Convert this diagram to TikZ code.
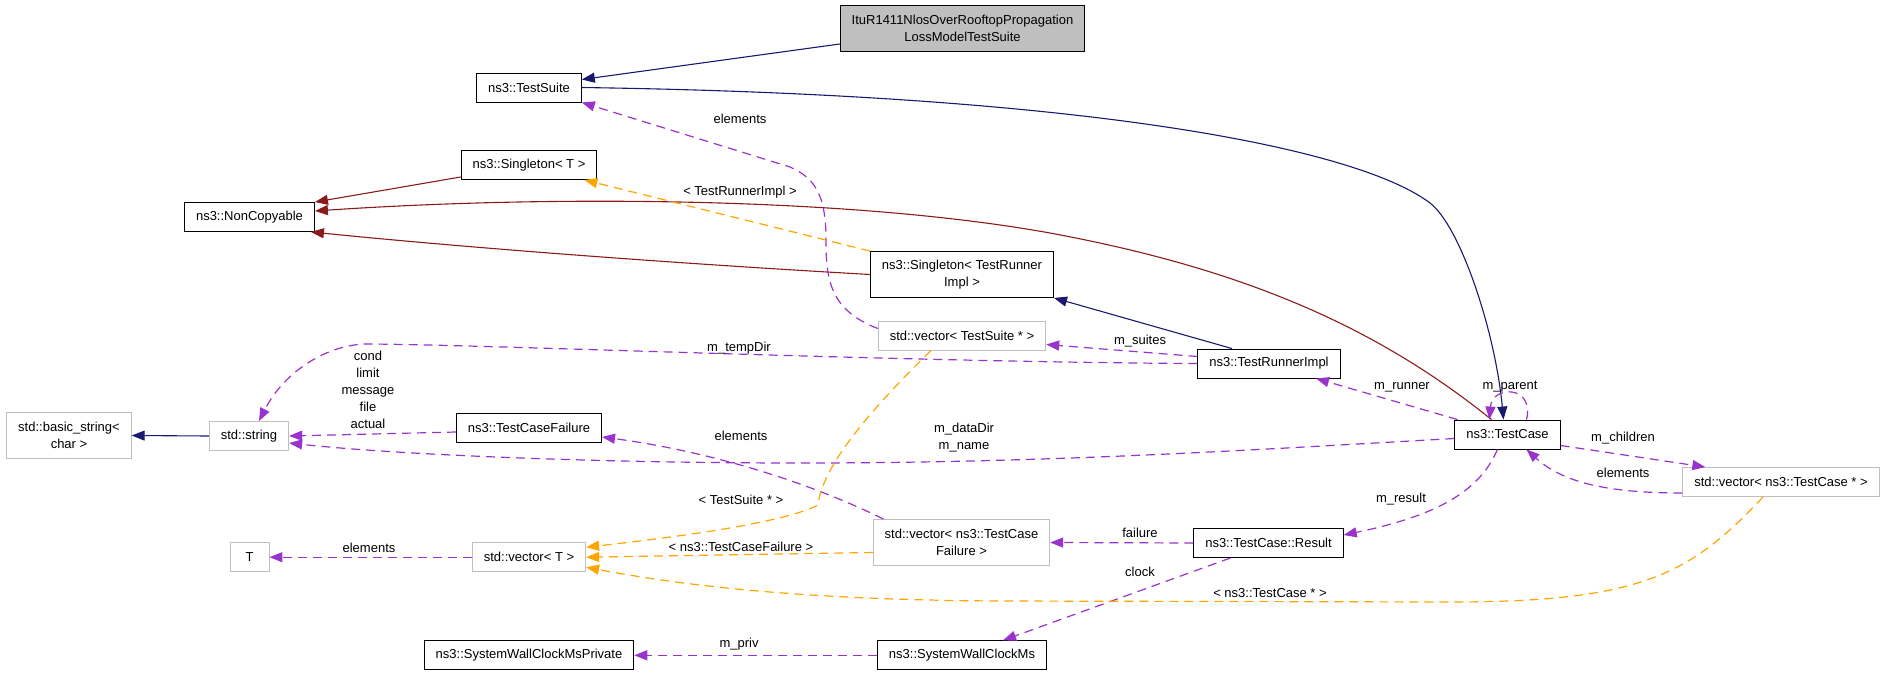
\documentclass[tikz,border=0pt]{standalone}
\usepackage{fontspec}
\setmainfont{Liberation Sans}
\usetikzlibrary{arrows.meta}
\definecolor{inhblue}{RGB}{25,25,112}
\definecolor{ncred}{RGB}{139,26,26}
\definecolor{usepurple}{RGB}{154,50,205}
\definecolor{tplorange}{RGB}{255,165,0}
\definecolor{boxgray}{RGB}{191,191,191}

\begin{document}
\begin{tikzpicture}[x=1pt, y=-1pt, >={Triangle[length=13pt,width=10pt]}, font=\fontsize{13}{17}\selectfont,
  cls/.style={draw=black, line width=0.9pt, fill=white, inner xsep=11.5pt, inner ysep=2pt, minimum height=29pt, align=center},
  ucls/.style={cls, draw=boxgray},
  twoline/.style={minimum height=46pt},
  lbl/.style={inner sep=1pt, align=center},
  inherit/.style={->, draw=inhblue, line width=1.1pt},
  inheritnc/.style={->, draw=ncred, line width=1.1pt},
  usage/.style={->, draw=usepurple, line width=1.2pt, dash pattern=on 9pt off 6pt},
  tmpl/.style={->, draw=tplorange, line width=1.2pt, dash pattern=on 9pt off 6pt}]
\useasboundingbox (0,0) rectangle (1888,675);

\node(itur)[cls,twoline,fill=boxgray] at (962.5,28) {ItuR1411NlosOverRooftopPropagation\\LossModelTestSuite};
\node(testsuite)[cls] at (529,87.5) {ns3::TestSuite};
\node(singletont)[cls] at (529,165) {ns3::Singleton< T >};
\node(noncopy)[cls] at (249.5,217) {ns3::NonCopyable};
\node(singletontri)[cls,twoline] at (962,274.5) {ns3::Singleton< TestRunner\\Impl >};
\node(vecsuite)[ucls] at (962,335.5) {std::vector< TestSuite * >};
\node(runner)[cls] at (1269,363.5) {ns3::TestRunnerImpl};
\node(basicstr)[ucls,twoline] at (69,435.5) {std::basic\_string<\\char >};
\node(stdstr)[ucls] at (249,436) {std::string};
\node(tcfailure)[cls] at (529,428) {ns3::TestCaseFailure};
\node(testcase)[cls] at (1507.5,434.5) {ns3::TestCase};
\node(veccase)[ucls] at (1781,482) {std::vector< ns3::TestCase * >};
\node(tparam)[ucls,minimum width=39pt] at (249.5,557.2) {T};
\node(vect)[ucls] at (529,557.2) {std::vector< T >};
\node(vecfailure)[ucls,twoline] at (961.5,542.5) {std::vector< ns3::TestCase\\Failure >};
\node(result)[cls] at (1268.5,543) {ns3::TestCase::Result};
\node(clockpriv)[cls] at (529,655.3) {ns3::SystemWallClockMsPrivate};
\node(clockms)[cls] at (962,655.3) {ns3::SystemWallClockMs};

\draw[inherit] ([yshift=-16pt]itur.west) -- ([yshift=8pt]testsuite.east);
\draw[inherit] (testsuite.east) .. controls (1100,95) and (1360,150) .. (1430,203) .. controls (1460,226) and (1495,330) .. ([xshift=-4pt]testcase.north);
\draw[inherit] ([xshift=-37pt]runner.north) -- (singletontri.south east);
\draw[inherit] (stdstr.west) -- (basicstr.east);
\draw[inheritnc] ([yshift=-12pt]singletont.west) -- (noncopy.north east);
\draw[inheritnc] ([xshift=-16pt]testcase.north) .. controls (1380,330) and (1250,270) .. (1050,233) .. controls (850,197) and (550,195) .. ([yshift=6pt]noncopy.east);
\draw[inheritnc] (singletontri.west) .. controls (650,262) and (450,246) .. ([xshift=-4pt]noncopy.south east);

\draw[usage] ([yshift=7pt]vecsuite.west) .. controls (830,310) and (826,280) .. (826,240) .. controls (826,195) and (815,178) .. (790,167) -- (testsuite.south east);
\draw[usage] ([yshift=7pt]runner.west) -- ([yshift=-9pt]vecsuite.east);
\draw[usage] (runner.west) .. controls (900,362) and (500,345) .. (370,344) .. controls (330,343) and (285,370) .. ([xshift=10pt]stdstr.north);
\draw[usage] ([yshift=-4pt]tcfailure.west) -- (stdstr.east);
\draw[usage] ([yshift=-4pt]testcase.west) .. controls (1250,450) and (1050,463) .. (800,463) .. controls (600,463) and (400,455) .. ([yshift=-7pt]stdstr.east);
\draw[usage] ([xshift=-50pt]testcase.north) -- ([xshift=47pt]runner.south);
\draw[usage] ([xshift=19pt]testcase.north) .. controls (1535,385) and (1492,385) .. ([xshift=-18pt]testcase.north);
\draw[usage] ([yshift=-11pt]testcase.east) -- ([xshift=23pt]veccase.north west);
\draw[usage] ([yshift=-11pt]veccase.west) .. controls (1600,493) and (1560,480) .. ([xshift=19pt]testcase.south);
\draw[usage] ([xshift=-10pt]testcase.south) .. controls (1480,490) and (1440,515) .. ([yshift=8pt]result.east);
\draw[usage] (result.west) -- (vecfailure.east);
\draw[usage] ([xshift=-38pt]result.south) -- ([xshift=41pt]clockms.north);
\draw[usage] (clockms.west) -- (clockpriv.east);
\draw[usage] (vect.west) -- (tparam.east);
\draw[usage] ([xshift=-78pt]vecfailure.north) .. controls (800,478) and (700,450) .. ([yshift=-9pt]tcfailure.east);

\draw[tmpl] (singletontri.north west) -- ([xshift=-13pt]singletont.south east);
\draw[tmpl] ([xshift=-31pt]vecsuite.south) .. controls (860,420) and (822,470) .. (818,505) .. controls (780,525) and (650,540) .. ([yshift=10pt]vect.east);
\draw[tmpl] ([yshift=-10pt]vecfailure.west) -- (vect.east);
\draw[tmpl] ([xshift=-18pt]veccase.south) .. controls (1690,575) and (1640,602) .. (1450,602) -- (1000,601) .. controls (800,600) and (680,585) .. ([yshift=-10pt]vect.east);

\node(lsuiteel)[lbl] at (740,119) {elements};
\node(ltri)[lbl] at (740,192) {< TestRunnerImpl >};
\node(ltemp)[lbl] at (739,348) {m\_tempDir};
\node(lsuites)[lbl] at (1140,341) {m\_suites};
\node(lfailmembers)[lbl] at (368,389.5) {cond\\limit\\message\\file\\actual};
\node(ldata)[lbl] at (964,438) {m\_dataDir\\m\_name};
\node(lrunner)[lbl] at (1402,387) {m\_runner};
\node(lparent)[lbl] at (1510,387) {m\_parent};
\node(lchildren)[lbl] at (1623,438) {m\_children};
\node(lcaseel)[lbl] at (1623,473) {elements};
\node(lresult)[lbl] at (1401,499) {m\_result};
\node(lfailure)[lbl] at (1140,533) {failure};
\node(lclock)[lbl] at (1140,572) {clock};
\node(lcaseptr)[lbl] at (1270,593) {< ns3::TestCase * >};
\node(lfailel)[lbl] at (741,436) {elements};
\node(lsuiteptr)[lbl] at (741,500) {< TestSuite * >};
\node(lfailtpl)[lbl] at (741,547) {< ns3::TestCaseFailure >};
\node(ltel)[lbl] at (369,548) {elements};
\node(lpriv)[lbl] at (739,644) {m\_priv};

\end{tikzpicture}
\end{document}
